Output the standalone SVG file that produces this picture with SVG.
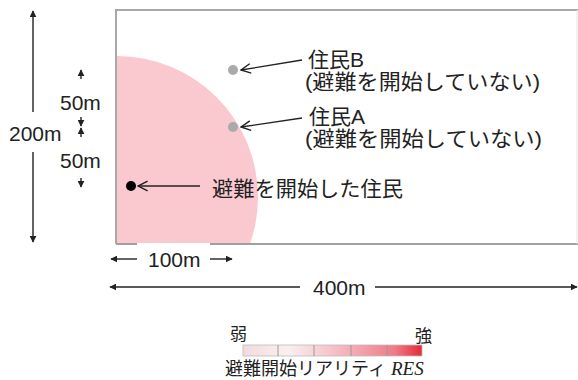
<svg xmlns="http://www.w3.org/2000/svg" width="578" height="380" viewBox="0 0 578 380">
<defs>
<style>
.t{font-family:"Liberation Sans","Noto Sans CJK JP",sans-serif;fill:#222;}
.lat{font-size:21px;}
.cjk{font-size:21px;}
.dim{stroke:#222;stroke-width:1.4;fill:none;}
.lead{stroke:#222;stroke-width:1.3;fill:none;}
</style>
<marker id="fa" viewBox="0 0 10 10" refX="9" refY="5" markerWidth="7" markerHeight="7" markerUnits="userSpaceOnUse" orient="auto-start-reverse">
<path d="M0,0 L10,5 L0,10 Z" fill="#222"/>
</marker>
<marker id="oa" viewBox="0 0 10 10" refX="9" refY="5" markerWidth="12" markerHeight="12" markerUnits="userSpaceOnUse" orient="auto-start-reverse">
<path d="M1,1 L9,5 L1,9" fill="none" stroke="#222" stroke-width="1.2"/>
</marker>
<linearGradient id="grad" x1="0" x2="1" y1="0" y2="0">
<stop offset="0" stop-color="#f3dadd"/>
<stop offset="0.25" stop-color="#f9f0f1"/>
<stop offset="0.55" stop-color="#f6b8bf"/>
<stop offset="0.85" stop-color="#ee7b86"/>
<stop offset="1" stop-color="#e52a35"/>
</linearGradient>
<clipPath id="field"><rect x="116" y="11" width="462" height="232"/></clipPath>
</defs>

<g id="field-area">
<circle cx="117" cy="197" r="141" fill="#f9c9cf" clip-path="url(#field)"/>
<path d="M116,244 V10 H578" fill="none" stroke="#a8a8a8" stroke-width="2"/>
<path d="M116,244 H137 M210,244 H578" fill="none" stroke="#a0a0a0" stroke-width="2"/>
<line x1="577" y1="10" x2="577" y2="244" stroke="#e6e6e6" stroke-width="1"/>
</g>

<g id="residentB">
<circle cx="233" cy="70" r="5" fill="#aaaaaa"/>
<text class="t cjk" x="308" y="67">住民B</text>
<text class="t cjk" x="305" y="89" textLength="235" lengthAdjust="spacingAndGlyphs">(避難を開始していない)</text>
</g>
<g id="residentA">
<circle cx="233" cy="127" r="5" fill="#aaaaaa"/>
<text class="t cjk" x="309" y="124">住民A</text>
<text class="t cjk" x="305" y="146" textLength="237" lengthAdjust="spacingAndGlyphs">(避難を開始していない)</text>
</g>
<g id="evacuee">
<circle cx="131" cy="186" r="5" fill="#000"/>
<text class="t cjk" x="212" y="196" textLength="191" lengthAdjust="spacingAndGlyphs">避難を開始した住民</text>
</g>

<g id="connectors">
<line class="lead" x1="302" y1="60" x2="241" y2="70" marker-end="url(#oa)"/>
<line class="lead" x1="302" y1="118" x2="241" y2="127" marker-end="url(#oa)"/>
<line class="lead" x1="200" y1="186" x2="138" y2="186" marker-end="url(#oa)"/>
</g>

<g id="dimensions">
<line class="dim" x1="33" y1="112" x2="33" y2="11" marker-end="url(#fa)"/>
<line class="dim" x1="33" y1="152" x2="33" y2="242" marker-end="url(#fa)"/>
<text class="t lat" x="9" y="141">200m</text>
<line class="dim" x1="81" y1="79" x2="81" y2="70" marker-end="url(#fa)"/>
<line class="dim" x1="81" y1="117" x2="81" y2="126" marker-end="url(#fa)"/>
<line class="dim" x1="81" y1="137" x2="81" y2="128" marker-end="url(#fa)"/>
<line class="dim" x1="81" y1="178" x2="81" y2="187" marker-end="url(#fa)"/>
<text class="t lat" x="60" y="110">50m</text>
<text class="t lat" x="60" y="168">50m</text>
<line class="dim" x1="137" y1="259" x2="111" y2="259" marker-end="url(#fa)"/>
<line class="dim" x1="210" y1="259" x2="232" y2="259" marker-end="url(#fa)"/>
<text class="t lat" x="148" y="267">100m</text>
<line class="dim" x1="300" y1="287" x2="110" y2="287" marker-end="url(#fa)"/>
<line class="dim" x1="375" y1="287" x2="577" y2="287" marker-end="url(#fa)"/>
<text class="t lat" x="313" y="295">400m</text>
</g>

<g id="legend">
<text class="t" style="font-size:17px" x="230" y="340">弱</text>
<text class="t" style="font-size:17px" x="415" y="342">強</text>
<rect x="243" y="345" width="179" height="11" fill="url(#grad)" stroke="#bbbbbb" stroke-width="0.8"/>
<path d="M278,345 V356 M314,345 V356 M351,345 V356 M387,345 V356" stroke="#999" stroke-width="1"/>
<text class="t" style="font-size:18px" x="225" y="375">避難開始リアリティ <tspan font-family="Liberation Serif" font-style="italic" font-size="19">RES</tspan></text>
</g>
</svg>
